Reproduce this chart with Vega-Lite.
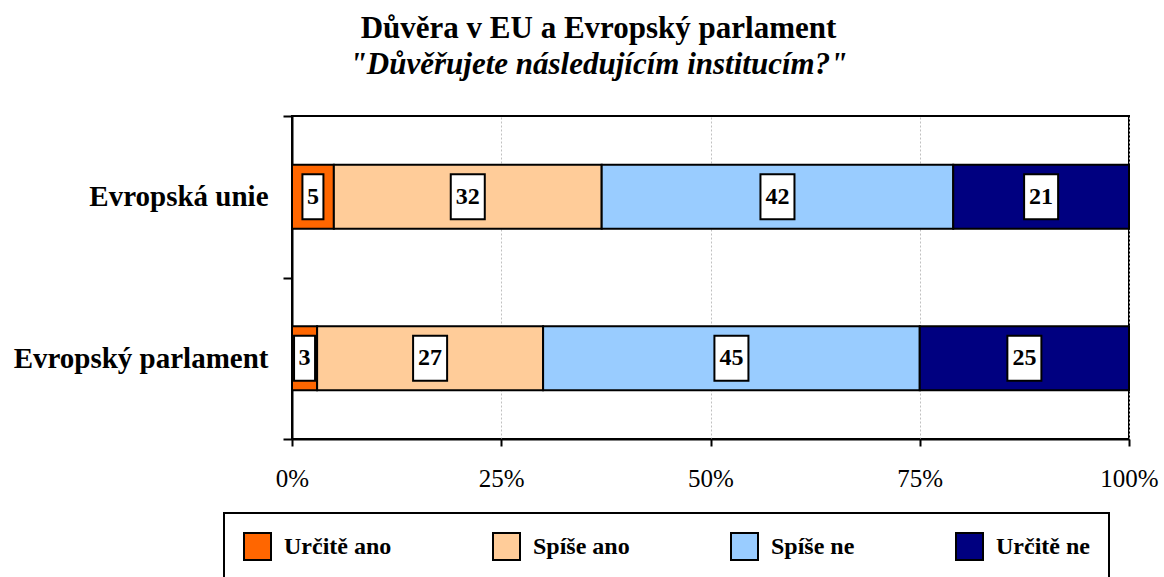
{
  "$schema": "https://vega.github.io/schema/vega-lite/v6.json",
  "autosize": "none",
  "padding": {"left": 292, "top": 116, "right": 35, "bottom": 138},
  "width": 837,
  "height": 323,
  "background": "white",
  "title": {
    "text": "Důvěra v EU a Evropský parlament",
    "subtitle": "\"Důvěřujete následujícím institucím?\"",
    "anchor": "middle",
    "frame": "group",
    "dx": -112,
    "offset": 21,
    "font": "Liberation Serif",
    "fontSize": 31,
    "fontWeight": "bold",
    "color": "black",
    "subtitleFont": "Liberation Serif",
    "subtitleFontSize": 31,
    "subtitleFontWeight": "bold",
    "subtitleFontStyle": "italic",
    "subtitleColor": "black",
    "subtitlePadding": 5
  },
  "data": {
    "values": [
      {"inst": "Evropská unie", "cat": "Určitě ano", "k": 1, "value": 5},
      {"inst": "Evropská unie", "cat": "Spíše ano", "k": 2, "value": 32},
      {"inst": "Evropská unie", "cat": "Spíše ne", "k": 3, "value": 42},
      {"inst": "Evropská unie", "cat": "Určitě ne", "k": 4, "value": 21},
      {"inst": "Evropský parlament", "cat": "Určitě ano", "k": 1, "value": 3},
      {"inst": "Evropský parlament", "cat": "Spíše ano", "k": 2, "value": 27},
      {"inst": "Evropský parlament", "cat": "Spíše ne", "k": 3, "value": 45},
      {"inst": "Evropský parlament", "cat": "Určitě ne", "k": 4, "value": 25}
    ]
  },
  "transform": [
    {"stack": "value", "groupby": ["inst"], "sort": [{"field": "k", "order": "ascending"}], "as": ["s0", "s1"]}
  ],
  "encoding": {
    "y": {
      "field": "inst",
      "type": "nominal",
      "sort": ["Evropská unie", "Evropský parlament"],
      "scale": {"paddingInner": 0, "paddingOuter": 0},
      "axis": {
        "title": null,
        "tickBand": "extent",
        "labelFont": "Liberation Serif",
        "labelFontSize": 29,
        "labelFontWeight": "bold",
        "labelColor": "black",
        "labelPadding": 15,
        "labelLimit": 400,
        "tickSize": 9,
        "tickWidth": 2,
        "tickColor": "black",
        "domainColor": "black",
        "domainWidth": 2
      }
    }
  },
  "layer": [
    {
      "mark": {"type": "bar", "size": 64, "stroke": "black", "strokeWidth": 2, "opacity": 1},
      "encoding": {
        "x": {
          "field": "s0",
          "type": "quantitative",
          "scale": {"domain": [0, 100], "nice": false},
          "axis": {
            "title": null,
            "values": [0, 25, 50, 75, 100],
            "labelExpr": "datum.value + '%'",
            "grid": true,
            "gridColor": "#c0c0c0",
            "gridDash": [2, 2],
            "gridWidth": 1,
            "domainColor": "black",
            "domainWidth": 2,
            "tickColor": "black",
            "tickWidth": 2,
            "tickSize": 7,
            "labelFont": "Liberation Serif",
            "labelFontSize": 25,
            "labelColor": "black",
            "labelPadding": 20,
            "labelFlush": false
          }
        },
        "x2": {"field": "s1"},
        "color": {
          "field": "cat",
          "type": "nominal",
          "scale": {
            "domain": ["Určitě ano", "Spíše ano", "Spíše ne", "Určitě ne"],
            "range": ["#FF6600", "#FFCC99", "#99CCFF", "#000080"]
          },
          "legend": {
            "orient": "none",
            "legendX": -68,
            "legendY": 397,
            "direction": "horizontal",
            "columns": 4,
            "title": null,
            "strokeColor": "black",
            "padding": 19,
            "symbolType": "square",
            "symbolSize": 729,
            "symbolStrokeColor": "black",
            "symbolStrokeWidth": 2,
            "symbolOpacity": 1,
            "labelFont": "Liberation Serif",
            "labelFontSize": 24,
            "labelFontWeight": "bold",
            "labelColor": "black",
            "labelOffset": 12,
            "columnPadding": 97,
            "labelLimit": 300,
            "encode": {"legend": {"update": {"strokeWidth": {"value": 2}}}}
          }
        }
      }
    },
    {
      "transform": [
        {"fold": ["s0", "s1"], "as": ["edge", "pos"]},
        {"aggregate": [{"op": "mean", "field": "pos", "as": "mid"}], "groupby": ["inst", "cat", "value"]}
      ],
      "mark": {"type": "point", "filled": true, "fill": "white", "stroke": "black", "strokeWidth": 2, "opacity": 1, "size": 2025},
      "encoding": {
        "x": {"field": "mid", "type": "quantitative"},
        "shape": {
          "condition": {"test": "datum.value < 10", "value": "M-0.467,-1H0.467V1H-0.467Z"},
          "value": "M-0.756,-1H0.756V1H-0.756Z"
        }
      }
    },
    {
      "transform": [
        {"fold": ["s0", "s1"], "as": ["edge", "pos"]},
        {"aggregate": [{"op": "mean", "field": "pos", "as": "mid"}], "groupby": ["inst", "cat", "value"]}
      ],
      "mark": {"type": "text", "font": "Liberation Serif", "fontSize": 24, "fontWeight": "bold", "baseline": "middle", "align": "center", "color": "black"},
      "encoding": {
        "x": {"field": "mid", "type": "quantitative"},
        "text": {"field": "value", "type": "quantitative"}
      }
    }
  ],
  "config": {
    "view": {"stroke": "black", "strokeWidth": 2}
  }
}
